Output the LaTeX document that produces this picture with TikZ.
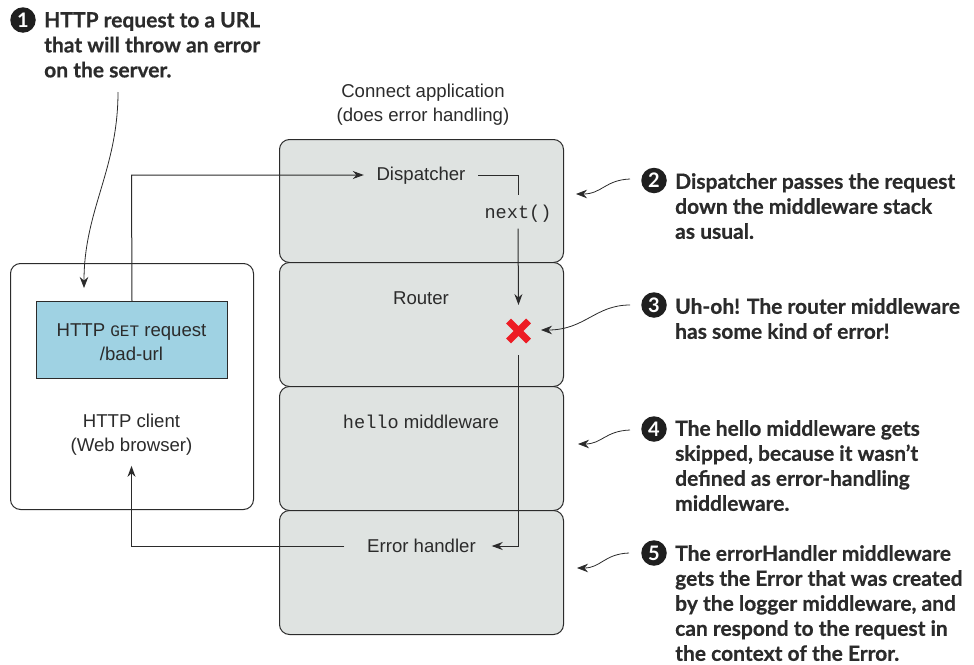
\documentclass[tikz,border=0pt]{standalone}
\usepackage{fontspec}
\setmainfont{Liberation Sans}
\newfontfamily\notefont{Lato}[BoldFont={Lato Bold},BoldFeatures={FakeBold=0.6}]
\newfontfamily\numfont{Lato}[BoldFont={Lato Bold}]
\newfontfamily\codefont{Liberation Mono}
\usetikzlibrary{arrows.meta,shapes.misc}
\definecolor{panelfill}{HTML}{DFE3E1}
\definecolor{bluefill}{HTML}{9FD2E3}
\definecolor{inkc}{HTML}{2B2B2B}
\definecolor{redx}{HTML}{ED1C24}
\newcommand{\cd}[1]{{\codefont #1}}
\newcommand{\smcd}[1]{{\codefont\fontsize{16}{24}\selectfont #1}}
\tikzset{
  x=1pt,y=-1pt,
  panel/.style={draw=inkc,line width=1pt,fill=panelfill,rounded corners=10pt},
  clientbox/.style={draw=inkc,line width=1pt,fill=white,rounded corners=10pt},
  reqbox/.style={draw=inkc,line width=1pt,fill=bluefill},
  lab/.style={text=inkc,font=\fontsize{18.6}{24}\selectfont,align=center,inner sep=0pt},
  conn/.style={draw=inkc,line width=1pt,-{Stealth[length=11pt,width=8pt]}},
  plainconn/.style={draw=inkc,line width=1pt},
  lead/.style={draw=inkc,line width=0.8pt,-{Stealth[length=11pt,width=8.5pt]}},
  note/.style={text=inkc,font=\notefont\bfseries\fontsize{21}{25}\selectfont,align=left,anchor=north west,inner sep=0pt},
  num/.style={circle,fill=black!88,text=white,inner sep=0pt,minimum size=25.5pt,font=\numfont\bfseries\fontsize{20}{20}\selectfont},
  redcross/.style={cross out,draw=redx,line width=7pt,minimum size=20pt,inner sep=0pt,outer sep=0pt}
}
\begin{document}
\begin{tikzpicture}
\useasboundingbox (0,0) rectangle (974,664);
% panels
\node[panel,minimum width=284pt,minimum height=123pt,anchor=north west] (pdisp) at (279,139) {};
\node[panel,minimum width=284pt,minimum height=124pt,anchor=north west] (prout) at (279,262) {};
\node[panel,minimum width=284pt,minimum height=124pt,anchor=north west] (phello) at (279,386) {};
\node[panel,minimum width=284pt,minimum height=124pt,anchor=north west] (perr) at (279,510) {};
% client
\node[clientbox,minimum width=243pt,minimum height=246pt,anchor=north west] (client) at (10,263) {};
\node[reqbox,minimum width=191pt,minimum height=77pt,anchor=north west] (req) at (36,301) {};
\node[lab] (reqlab) at (131.5,342) {HTTP \smcd{GET} request\\/bad-url};
\node[lab] (clientlab) at (131.5,435) {HTTP client\\(Web browser)};
% labels
\node[lab] (app) at (423,105) {Connect application\\(does error handling)};
\node[lab,minimum width=114pt,minimum height=24pt,text height=14.5pt,text depth=3.5pt] (disp) at (421,175) {Dispatcher};
\node[lab,minimum width=70pt,minimum height=33pt,text height=16pt,text depth=2.5pt] (next) at (518,212) {\cd{next()}};
\node[lab] (router) at (421,298) {Router};
\node[lab] (hello) at (421,422) {\cd{hello} middleware};
\node[lab,minimum width=140pt,minimum height=24pt] (errh) at (421.5,546) {Error handler};
\node[redcross] (xm) at (518.5,331) {};
% connectors
\draw[conn] (req.north) -- (131.5,175) -- (disp.west);
\draw[plainconn] (disp.east) -| (next.north);
\draw[conn] (next.south) -- (xm.north |- 0,305);
\coordinate (xout) at (518.5,355);
\draw[conn] (xout) |- (errh.east);
\draw[conn,shorten <=7pt] (errh.west) -| ([yshift=-10pt]clientlab.south);
% notes
\node[num] (n1) at (23,20) {1};
\node[note] (t1) at (44,12) {HTTP request to a URL\\that will throw an error\\on the server.};
\node[num] (n2) at (654,180.5) {2};
\node[note] (t2) at (675,173) {Dispatcher passes the request\\down the middleware stack\\as usual.};
\node[num] (n3) at (654,305) {3};
\node[note] (t3) at (675,298) {Uh-oh! The router middleware\\has some kind of error!};
\node[num] (n4) at (654,429) {4};
\node[note] (t4) at (675,420) {The hello middleware gets\\skipped, because it wasn’t\\defined as error-handling\\middleware.};
\node[num] (n5) at (654,553) {5};
\node[note] (t5) at (675,545) {The errorHandler middleware\\gets the Error that was created\\by the logger middleware, and\\can respond to the request in\\the context of the Error.};
% leaders
\coordinate (s1) at (118,92);
\coordinate (e1) at (84,288);
\draw[lead] (s1) .. controls (118,170) and (84,210) .. (e1);
\coordinate (s2) at (630,179);
\coordinate (e2) at (576,194);
\draw[lead] (s2) .. controls (605,180) and (602,194) .. (e2);
\coordinate (s3) at (630,305);
\coordinate (e3) at (541,330);
\draw[lead] (s3) .. controls (595,305) and (585,330) .. (e3);
\coordinate (s4) at (630,430);
\coordinate (e4) at (578,444);
\draw[lead] (s4) .. controls (605,431) and (602,444) .. (e4);
\coordinate (s5) at (629,553);
\coordinate (e5) at (577,568);
\draw[lead] (s5) .. controls (604,554) and (601,568) .. (e5);
\end{tikzpicture}
\end{document}
